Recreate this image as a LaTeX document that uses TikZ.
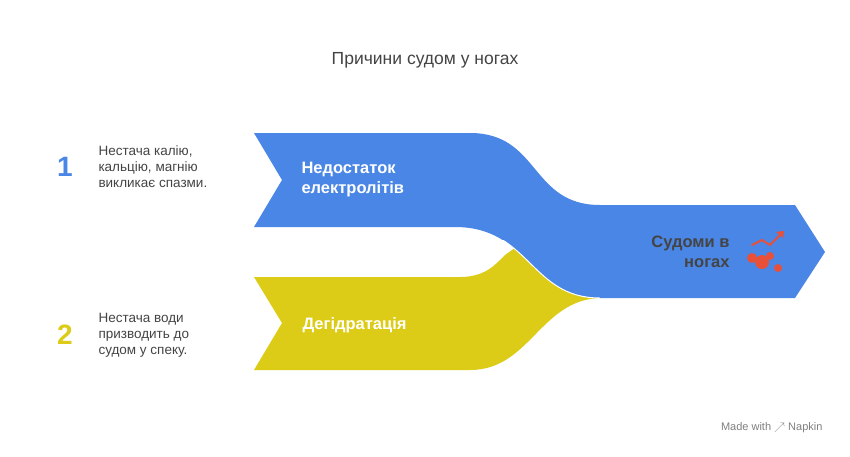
\documentclass[tikz,border=0pt]{standalone}
\usepackage{fontspec}
\setmainfont{Liberation Sans}
\definecolor{flowblue}{HTML}{4A86E5}
\definecolor{flowyellow}{HTML}{DDCC17}
\definecolor{inkgray}{HTML}{444444}
\definecolor{iconred}{HTML}{E8503A}
\tikzset{
  band/.style={draw=none},
  lbl/.style={text=white, font=\bfseries\fontsize{16.5}{20}\selectfont, align=left, anchor=west},
  note/.style={text=inkgray, font=\fontsize{13.5}{16}\selectfont, align=left, anchor=west},
  num/.style={font=\bfseries\fontsize{28}{32}\selectfont}
}
\begin{document}
\begin{tikzpicture}[x=1pt, y=-1pt]
  \useasboundingbox[fill=white] (0,0) rectangle (850,456);
  % yellow band
  \fill[band, flowyellow] (254,277) -- (460,277)
      .. controls (485,277) and (495,265) .. (505,255)
      -- (540,230) -- (600,298)
      .. controls (540,300) and (530,370) .. (470,370)
      -- (254,370) -- (282,323) -- cycle;
  % blue band
  \fill[band, flowblue] (254,133) -- (470,133)
      .. controls (540,133) and (530,205) .. (600,205)
      -- (795,205) -- (825,252) -- (795,298) -- (600,298)
      .. controls (530,298) and (530,227) .. (455,227)
      -- (254,227) -- (282,180) -- cycle;
  \begin{scope}
    \clip (500,240) rectangle (610,310);
    \draw[white, line width=1pt] (600,298) .. controls (530,298) and (530,227) .. (455,227);
  \end{scope}
  % texts
  \node[text=inkgray, font=\fontsize{17.5}{21}\selectfont] (title) at (425,60) {Причини судом у ногах};
  \node[lbl] (lblA) at (298,180) {Недостаток\\електролітів};
  \node[lbl] (lblB) at (299,325) {Дегідратація};
  \node[text=inkgray, font=\bfseries\fontsize{16.5}{20}\selectfont, align=right, anchor=east] (lblC) at (733,252) {Судоми в\\ногах};
  \node[num, flowblue] (n1) at (65,167) {1};
  \node[num, flowyellow] (n2) at (65,335) {2};
  \node[note] (t1) at (95,167) {Нестача калію,\\кальцію, магнію\\викликає спазми.};
  \node[note] (t2) at (95,335) {Нестача води\\призводить до\\судом у спеку.};
  % icon
  \fill[iconred] (752,258) circle (5);
  \fill[iconred] (762,262) circle (7);
  \fill[iconred] (778,268) circle (4);
  \fill[iconred] (770,256) circle (4);
  \draw[iconred, line width=2pt, line cap=round] (752,245) -- (762,240) -- (770,245) -- (782,233);
  \fill[iconred] (784,231) -- (776,232) -- (783,238) -- cycle;
  \node[text=gray, font=\fontsize{11}{13}\selectfont, anchor=east] (credit) at (826,428) {Made with $\nearrow$ Napkin};
\end{tikzpicture}
\end{document}
